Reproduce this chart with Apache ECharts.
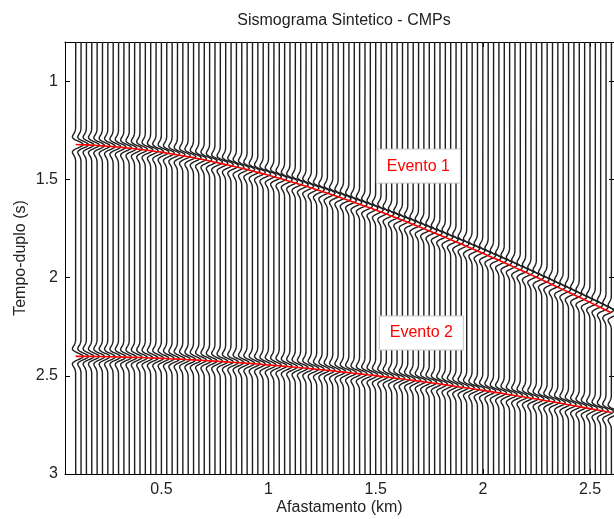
<!DOCTYPE html>
<html>
<head>
<meta charset="utf-8">
<script src="https://cdn.jsdelivr.net/npm/echarts@6/dist/echarts.min.js"></script>
<style>
html, body { margin: 0; padding: 0; background: #fff; }
#chart { width: 614px; height: 519px; }
</style>
</head>
<body>
<div id="chart"></div>
<script>
// Trace offsets (km)
const offsets = [
  0.100, 0.125, 0.150, 0.175, 0.200, 0.225, 0.250, 0.275, 0.300, 0.325,
  0.350, 0.375, 0.400, 0.425, 0.450, 0.475, 0.500, 0.525, 0.550, 0.575,
  0.600, 0.625, 0.650, 0.675, 0.700, 0.725, 0.750, 0.775, 0.800, 0.825,
  0.850, 0.875, 0.900, 0.925, 0.950, 0.975, 1.000, 1.025, 1.050, 1.075,
  1.100, 1.125, 1.150, 1.175, 1.200, 1.225, 1.250, 1.275, 1.300, 1.325,
  1.350, 1.375, 1.400, 1.425, 1.450, 1.475, 1.500, 1.525, 1.550, 1.575,
  1.600, 1.625, 1.650, 1.675, 1.700, 1.725, 1.750, 1.775, 1.800, 1.825,
  1.850, 1.875, 1.900, 1.925, 1.950, 1.975, 2.000, 2.025, 2.050, 2.075,
  2.100, 2.125, 2.150, 2.175, 2.200, 2.225, 2.250, 2.275, 2.300, 2.325,
  2.350, 2.375, 2.400, 2.425, 2.450, 2.475, 2.500, 2.525, 2.550, 2.575,
  2.600
];

// Two-way time of reflection 1 on each trace (s)
const evento1 = [
  1.322, 1.323, 1.324, 1.325, 1.327, 1.329, 1.331, 1.333, 1.335, 1.338,
  1.341, 1.344, 1.347, 1.350, 1.354, 1.358, 1.361, 1.366, 1.370, 1.375,
  1.379, 1.384, 1.389, 1.395, 1.400, 1.406, 1.412, 1.418, 1.424, 1.430,
  1.437, 1.443, 1.450, 1.457, 1.464, 1.471, 1.479, 1.486, 1.494, 1.502,
  1.510, 1.518, 1.527, 1.535, 1.544, 1.552, 1.561, 1.570, 1.579, 1.588,
  1.598, 1.607, 1.617, 1.626, 1.636, 1.646, 1.656, 1.666, 1.676, 1.687,
  1.697, 1.708, 1.718, 1.729, 1.740, 1.751, 1.762, 1.773, 1.784, 1.795,
  1.807, 1.818, 1.829, 1.841, 1.853, 1.864, 1.876, 1.888, 1.900, 1.912,
  1.924, 1.936, 1.949, 1.961, 1.973, 1.986, 1.998, 2.011, 2.023, 2.036,
  2.049, 2.061, 2.074, 2.087, 2.100, 2.113, 2.126, 2.139, 2.152, 2.166,
  2.179
];

// Two-way time of reflection 2 on each trace (s)
const evento2 = [
  2.401, 2.401, 2.401, 2.401, 2.402, 2.402, 2.403, 2.403, 2.404, 2.405,
  2.406, 2.406, 2.407, 2.408, 2.409, 2.410, 2.411, 2.412, 2.414, 2.415,
  2.416, 2.418, 2.419, 2.420, 2.422, 2.424, 2.425, 2.427, 2.429, 2.431,
  2.432, 2.434, 2.436, 2.438, 2.440, 2.443, 2.445, 2.447, 2.449, 2.452,
  2.454, 2.456, 2.459, 2.461, 2.464, 2.467, 2.469, 2.472, 2.475, 2.478,
  2.481, 2.484, 2.487, 2.490, 2.493, 2.496, 2.499, 2.503, 2.506, 2.509,
  2.513, 2.516, 2.520, 2.523, 2.527, 2.531, 2.534, 2.538, 2.542, 2.546,
  2.550, 2.554, 2.558, 2.562, 2.566, 2.570, 2.574, 2.578, 2.583, 2.587,
  2.591, 2.596, 2.600, 2.605, 2.609, 2.614, 2.618, 2.623, 2.628, 2.632,
  2.637, 2.642, 2.647, 2.652, 2.657, 2.662, 2.667, 2.672, 2.677, 2.682,
  2.687
];

// Zero-phase source pulse, sampled every waveletStep seconds
const wavelet = [
  -0.012, -0.027, -0.055, -0.103, -0.175, -0.268, -0.365, -0.435, -0.434, -0.319,
  -0.078, 0.262, 0.621, 0.897, 1.000, 0.897, 0.621, 0.262, -0.078, -0.319,
  -0.434, -0.435, -0.365, -0.268, -0.175, -0.103, -0.055, -0.027, -0.012
];
const waveletStep = 0.006;

const xTicks = [0.5, 1, 1.5, 2, 2.5];
const yTicks = [1, 1.5, 2, 2.5, 3];

const annotations = [
  [1.699, 1.432, 'Evento 1'],
  [1.713, 2.282, 'Evento 2']
];

const X_MIN = 0.05, X_MAX = 2.612;
const Y_MIN = 0.8, Y_MAX = 3.0;
const traceGain = 0.035;   // km of deflection per unit amplitude
const FONT = '"Liberation Sans", Arial, sans-serif';

const traceData = offsets.map((x, i) => [x, evento1[i], evento2[i]]);

// One wiggle trace: straight baseline broken by the pulse at each reflection time
function renderTrace(params, api) {
  const x0 = api.value(0);
  const picks = [api.value(1), api.value(2)];
  const half = (wavelet.length - 1) / 2;
  const line = [api.coord([x0, Y_MIN])];
  picks.forEach(tp => {
    wavelet.forEach((w, k) => {
      const t = tp + (k - half) * waveletStep;
      line.push(api.coord([x0 + traceGain * w, t]));
    });
  });
  line.push(api.coord([x0, Y_MAX]));
  return {
    type: 'polyline',
    shape: { points: line },
    style: { stroke: '#1e1e1e', lineWidth: 1.4, fill: null, lineJoin: 'round' }
  };
}

function renderNote(params, api) {
  const p = api.coord([api.value(0), api.value(1)]);
  const txt = annotations[params.dataIndex][2];
  return {
    type: 'group',
    children: [
      { type: 'rect', shape: { x: p[0] - 42, y: p[1] - 17, width: 84, height: 34 },
        style: { fill: '#fff', stroke: '#c8c8c8', lineWidth: 1 } },
      { type: 'text', x: p[0], y: p[1],
        style: { text: txt, fill: '#ff0000', font: '16px ' + FONT, align: 'center', verticalAlign: 'middle' } }
    ]
  };
}

const axisCommon = {
  type: 'value',
  axisLine: { show: true, onZero: false, lineStyle: { color: '#000', width: 1 } },
  splitLine: { show: false }
};

const chart = echarts.init(document.getElementById('chart'), null, { renderer: 'canvas' });
chart.setOption({
  animation: false,
  backgroundColor: '#fff',
  title: {
    text: 'Sismograma Sintetico - CMPs',
    left: 339, top: 8, textAlign: 'center',
    textStyle: { fontFamily: FONT, fontSize: 16, fontWeight: 'normal', color: '#222' }
  },
  grid: { left: 65, right: 0, top: 42, bottom: 45, outerBoundsMode: 'none', containLabel: false },
  xAxis: [
    Object.assign({}, axisCommon, {
      min: X_MIN, max: X_MAX, position: 'bottom',
      name: 'Afastamento (km)', nameLocation: 'middle', nameGap: 26, nameMoveOverlap: false,
      nameTextStyle: { fontFamily: FONT, fontSize: 16, color: '#222' },
      axisTick: { show: true, inside: true, length: 5, customValues: xTicks, lineStyle: { color: '#000' } },
      axisLabel: { customValues: xTicks, fontFamily: FONT, fontSize: 16, color: '#222', margin: 8 }
    }),
    Object.assign({}, axisCommon, {
      min: X_MIN, max: X_MAX, position: 'top',
      axisTick: { show: true, inside: true, length: 5, customValues: xTicks, lineStyle: { color: '#000' } },
      axisLabel: { show: false }
    })
  ],
  yAxis: [
    Object.assign({}, axisCommon, {
      min: Y_MIN, max: Y_MAX, inverse: true, position: 'left',
      name: 'Tempo-duplo (s)', nameLocation: 'middle', nameGap: 36, nameMoveOverlap: false,
      nameTextStyle: { fontFamily: FONT, fontSize: 16, color: '#222' },
      axisTick: { show: true, inside: true, length: 5, customValues: yTicks, lineStyle: { color: '#000' } },
      axisLabel: { customValues: yTicks, fontFamily: FONT, fontSize: 16, color: '#222', margin: 7 }
    }),
    Object.assign({}, axisCommon, {
      min: Y_MIN, max: Y_MAX, inverse: true, position: 'right',
      axisTick: { show: true, inside: true, length: 5, customValues: yTicks, lineStyle: { color: '#000' } },
      axisLabel: { show: false }
    })
  ],
  series: [
    {
      name: 'traces', type: 'custom', renderItem: renderTrace,
      xAxisIndex: 0, yAxisIndex: 0, encode: { x: 0, y: 1 },
      data: traceData, clip: true, silent: true, z: 2
    },
    {
      name: 'Evento 1', type: 'line', xAxisIndex: 0, yAxisIndex: 0,
      data: offsets.map((x, i) => [x, evento1[i]]),
      showSymbol: false, symbol: 'none', lineStyle: { color: '#ff0000', width: 1.6 }, z: 5, silent: true
    },
    {
      name: 'Evento 2', type: 'line', xAxisIndex: 0, yAxisIndex: 0,
      data: offsets.map((x, i) => [x, evento2[i]]),
      showSymbol: false, symbol: 'none', lineStyle: { color: '#ff0000', width: 1.6 }, z: 5, silent: true
    },
    {
      name: 'notes', type: 'custom', renderItem: renderNote,
      xAxisIndex: 0, yAxisIndex: 0, encode: { x: 0, y: 1 },
      data: annotations.map(a => [a[0], a[1]]), z: 6, silent: true
    }
  ]
});
</script>
</body>
</html>
